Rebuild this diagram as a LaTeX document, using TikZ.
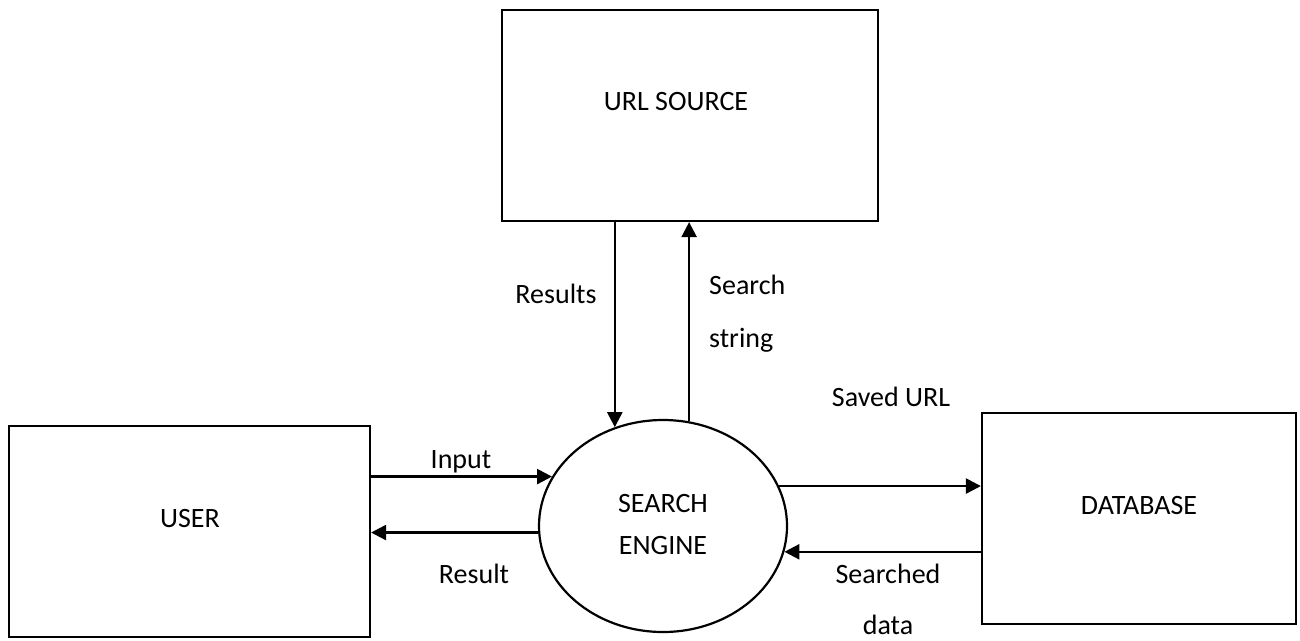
\documentclass[tikz,border=0pt]{standalone}
\usepackage{fontspec}
\setmainfont{Carlito}
\usetikzlibrary{shapes.geometric,arrows.meta,calc}
\begin{document}
\begin{tikzpicture}[x=1pt,y=-1pt,
  font=\fontsize{28}{53}\selectfont,
  box/.style={draw=black,line width=2.2pt,fill=white,inner sep=0pt},
  proc/.style={draw=black,line width=2.2pt,ellipse,inner sep=0pt,
    minimum width=248pt,minimum height=212pt},
  txt/.style={inner sep=0pt,anchor=base},
  flow/.style={line width=2.4pt,-{Triangle[length=15pt,width=15pt]}}]
\useasboundingbox (0,0) rectangle (1300,640);

% external entities and the central process
\node[box,minimum width=376pt,minimum height=211pt] (url) at (690,115.5) {};
\node[box,minimum width=361pt,minimum height=211pt] (user) at (189.5,531.5) {};
\node[box,minimum width=314pt,minimum height=211pt] (db) at (1139,518.5) {};
\node[proc] (se) at (663,526) {};

% titles inside the shapes
\node[txt] (urlT) at (676,110) {URL SOURCE};
\node[txt] (userT) at (190,527) {USER};
\node[txt] (dbT) at (1139,514) {DATABASE};
\node[txt] (seT1) at (663,512) {SEARCH};
\node[txt] (seT2) at (663,554) {ENGINE};

% data flows
\draw[flow] (user.east |- se.156) -- (se.156);
\draw[flow] (se.183) -- (user.east |- se.183);
\draw[flow] (url.south -| se.116) -- (se.116);
\draw[flow] (se.76) -- (url.south -| se.76);
\draw[flow] (se.19) -- (db.west |- se.19);
\draw[flow] (db.west |- se.-12) -- (se.-12);

% flow labels
\node[txt] (lInput) at (461,468) {Input};
\node[txt] (lResult) at (474,583) {Result};
\node[txt] (lResults) at (556,303) {Results};
\node[txt,anchor=base west] (lSearch) at (709,294) {Search};
\node[txt,anchor=base west] (lString) at (709,347) {string};
\node[txt] (lSaved) at (891,406) {Saved URL};
\node[txt] (lSearched) at (888,583) {Searched};
\node[txt] (lData) at (888,634) {data};
\end{tikzpicture}
\end{document}
